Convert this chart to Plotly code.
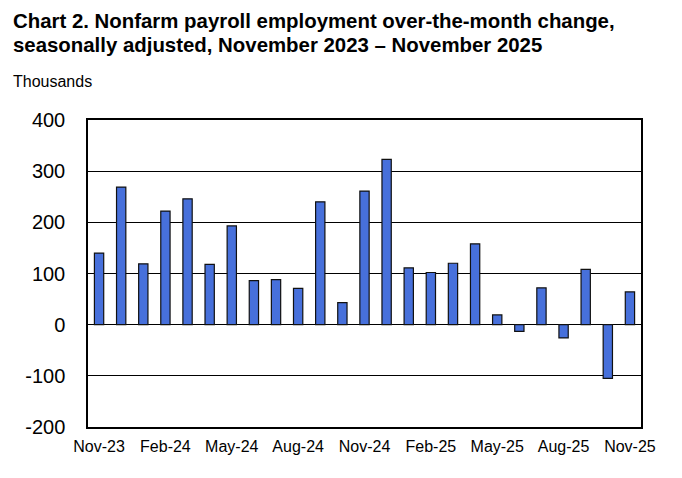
import plotly.graph_objects as go

months = ["Nov-23", "Dec-23", "Jan-24", "Feb-24", "Mar-24", "Apr-24", "May-24", "Jun-24",
          "Jul-24", "Aug-24", "Sep-24", "Oct-24", "Nov-24", "Dec-24", "Jan-25", "Feb-25",
          "Mar-25", "Apr-25", "May-25", "Jun-25", "Jul-25", "Aug-25", "Sep-25", "Oct-25", "Nov-25"]
changes = [140, 269, 119, 222, 246, 118, 193, 86, 88, 71, 240, 43, 261,
           323, 111, 102, 120, 158, 19, -13, 72, -26, 108, -105, 64]
tick_labels = ["Nov-23", "Feb-24", "May-24", "Aug-24", "Nov-24", "Feb-25", "May-25", "Aug-25", "Nov-25"]
y_ticks = [-200, -100, 0, 100, 200, 300, 400]
y_tick_text = ["-200", "-100", "0", "100", "200", "300", "400"]
title_lines = ["Chart 2. Nonfarm payroll employment over-the-month change,",
               "seasonally adjusted, November 2023 – November 2025"]

FONT = "Liberation Sans, Arial, sans-serif"
L, R, T, B = 88, 641, 120, 427
W, H = 682, 478


def px_x(p):
    return (p - L) / (R - L)


def px_y(p):
    return (B - p) / (B - T)


fig = go.Figure(go.Bar(
    x=months, y=changes,
    marker=dict(color="#4770DB", line=dict(color="#111111", width=1.2)),
    hoverinfo="x+y",
))

annotations = []
for i, line in enumerate(title_lines):
    annotations.append(dict(
        text="<b>" + line + "</b>", xref="paper", yref="paper",
        x=px_x(11), y=px_y(8 + 24 * i), xanchor="left", yanchor="top",
        showarrow=False, font=dict(family=FONT, size=20.4, color="black"),
    ))
annotations.append(dict(
    text="Thousands", xref="paper", yref="paper",
    x=px_x(11), y=px_y(71), xanchor="left", yanchor="top",
    showarrow=False, font=dict(family=FONT, size=16, color="black"),
))

fig.update_layout(
    width=W, height=H,
    margin=dict(l=L, r=W - R, t=T, b=H - B, autoexpand=False),
    paper_bgcolor="white", plot_bgcolor="white",
    bargap=0.58,
    showlegend=False,
    font=dict(family=FONT, color="black"),
    annotations=annotations,
)

fig.update_xaxes(
    type="category", automargin=False,
    tickmode="array", tickvals=tick_labels, ticktext=tick_labels,
    tickfont=dict(family=FONT, size=16, color="black"),
    showgrid=False, showline=True, linecolor="black", linewidth=1.5, mirror=True,
    ticks="", ticklen=0, ticklabelstandoff=4,
)
fig.update_yaxes(
    range=[-200, 400], automargin=False,
    tickmode="array", tickvals=y_ticks, ticktext=y_tick_text,
    tickfont=dict(family=FONT, size=20, color="black"),
    showgrid=True, gridcolor="black", gridwidth=1,
    zeroline=True, zerolinecolor="black", zerolinewidth=1.2,
    showline=True, linecolor="black", linewidth=1.5, mirror=True,
    ticks="", ticklabelstandoff=17,
)

fig.write_html("out.html", config={"displayModeBar": False},
               post_script="document.body.style.margin='0';")
